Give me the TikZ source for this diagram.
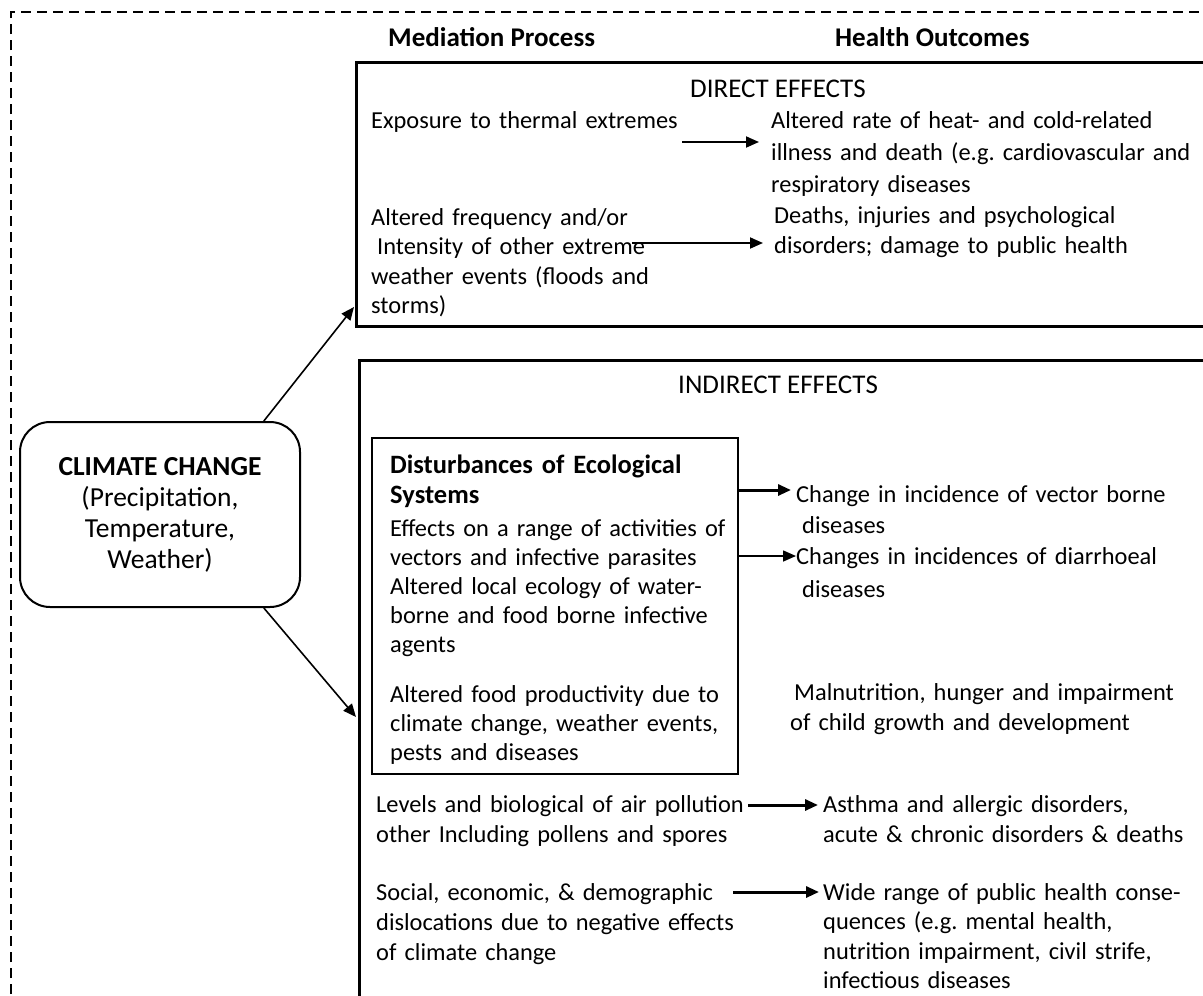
\documentclass[tikz,border=0pt]{standalone}
\usepackage{fontspec}
\setmainfont{Carlito}
\usetikzlibrary{arrows.meta}
\frenchspacing
\begin{document}
\begin{tikzpicture}[x=1pt,y=-1pt,
  body/.style={anchor=base west, inner sep=0pt, align=left, text width=450pt,
    font=\fontsize{24.4}{#1}\selectfont},
  body/.default=29.5,
  head/.style={anchor=base west, inner sep=0pt, font=\fontsize{27}{31}\selectfont\bfseries},
  title/.style={anchor=base west, inner sep=0pt, font=\fontsize{27}{31}\selectfont},
  frame/.style={draw, line width=2.6pt, anchor=north west, inner sep=0pt},
  arr/.style={-{Triangle[length=13pt,width=11pt]}, line width=1.8pt},
  heavyarr/.style={arr, line width=3pt},
  border/.style={line width=1.4pt, dash pattern=on 10pt off 6pt}
]
\useasboundingbox (0,0) rectangle (1203,996);
\clip (0,0) rectangle (1203,996);

% outer dashed frame
\draw[border] (11,1010) -- (11,12) -- (1215,12);

% column headings
\node[head] (mp) at (388,46) {Mediation Process};
\node[head] (ho) at (835,46) {Health Outcomes};

% driver
\node[draw, line width=2pt, rounded corners=30pt, minimum width=280pt,
      minimum height=185pt, align=center,
      font=\fontsize{27.5}{31}\selectfont] (cc) at (160,514.5)
  {{\bfseries CLIMATE CHANGE}\\(Precipitation,\\Temperature,\\Weather)};

% direct effects panel
\node[frame, minimum width=860pt, minimum height=264pt] (dbox) at (355,61) {};
\node[title] (de) at (690,97) {DIRECT EFFECTS};
\node[body] (d1) at (371,128) {Exposure to thermal extremes};
\node[body=32] (o1) at (771,128) {Altered rate of heat- and cold-related\\illness and death (e.g. cardiovascular and\\respiratory diseases};
\node[body] (d2) at (371,225) {Altered frequency and/or\\\hspace*{6pt}Intensity of other extreme\\weather events (floods and\\storms)};
\node[body=30] (o2) at (774,223) {Deaths, injuries and psychological\\disorders; damage to public health};
\coordinate (a1s) at (682,142);
\coordinate (a1e) at (759,142);
\coordinate (a2s) at (632,243);
\coordinate (a2e) at (763,243);
\draw[arr] (a1s) -- (a1e);
\draw[arr] (a2s) -- (a2e);

% indirect effects panel
\node[frame, minimum width=860pt, minimum height=700pt] (ibox) at (358,359) {};
\node[title] (ie) at (678,393) {INDIRECT EFFECTS};
\node[frame, line width=2pt, minimum width=366pt, minimum height=336pt] (dist) at (371,437) {};
\node[head, align=left, text width=340pt, font=\fontsize{26.5}{30}\selectfont\bfseries] (dh) at (390,473) {Disturbances of Ecological\\Systems};
\node[body=29] (dt) at (390,536) {Effects on a range of activities of\\vectors and infective parasites\\Altered local ecology of water-\\borne and food borne infective\\agents};
\node[body=29] (df) at (390,702) {Altered food productivity due to\\climate change, weather events,\\pests and diseases};

\node[body=31] (v1) at (796,502) {Change in incidence of vector borne\\\hspace*{6pt}diseases};
\node[body=33] (v2) at (796,564) {Changes in incidences of diarrhoeal\\\hspace*{6pt}diseases};
\node[body=30] (mn) at (794,700) {Malnutrition, hunger and impairment\\\hspace*{-4pt}of child growth and development};
\coordinate (v1e) at (791,490);
\coordinate (v2e) at (796,556);
\draw[heavyarr] (dist.east |- v1e) -- (v1e);
\draw[arr, line width=1.6pt] (dist.east |- v2e) -- (v2e);

\node[body=30] (ap) at (376,812) {Levels and biological of air pollution\\other Including pollens and spores};
\node[body=30] (as) at (823,812) {Asthma and allergic disorders,\\acute \& chronic disorders \& deaths};
\coordinate (a3s) at (748,805);
\coordinate (a3e) at (818,805);
\draw[heavyarr] (a3s) -- (a3e);

\node[body=30] (sd) at (376,900) {Social, economic, \& demographic\\dislocations due to negative effects\\of climate change};
\node[body=29.5] (wr) at (823,900) {Wide range of public health conse-\\quences (e.g. mental health,\\nutrition impairment, civil strife,\\infectious diseases};
\coordinate (a4s) at (733,892);
\coordinate (a4e) at (819,892);
\draw[heavyarr] (a4s) -- (a4e);

% links from the driver to both panels
\coordinate (dtip) at (354,307);
\coordinate (itip) at (356,717);
\draw[arr, line width=1.6pt] (cc.42) -- (dtip);
\draw[arr, line width=1.6pt] (cc.-42) -- (itip);
\end{tikzpicture}
\end{document}
